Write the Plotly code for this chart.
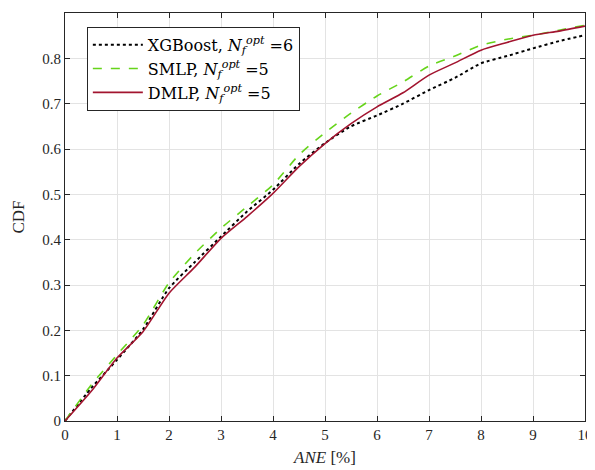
import plotly.graph_objects as go

ane = [0, 0.5, 1, 1.5, 2, 2.5, 3, 3.5, 4, 4.5, 5, 5.5, 6, 6.5, 7, 7.5, 8, 8.5, 9, 9.5, 10]
cdf_xgb = [0, 0.072, 0.135, 0.202, 0.293, 0.351, 0.407, 0.462, 0.510, 0.567, 0.613, 0.650, 0.674, 0.700, 0.730, 0.757, 0.789, 0.805, 0.822, 0.838, 0.851]
cdf_smlp = [0, 0.079, 0.146, 0.212, 0.305, 0.370, 0.425, 0.473, 0.521, 0.587, 0.636, 0.679, 0.717, 0.748, 0.783, 0.805, 0.829, 0.842, 0.851, 0.862, 0.873]
cdf_dmlp = [0, 0.065, 0.139, 0.197, 0.282, 0.340, 0.403, 0.451, 0.502, 0.561, 0.612, 0.656, 0.693, 0.724, 0.763, 0.790, 0.818, 0.835, 0.851, 0.860, 0.871]

names = ["XGBoost, <i>N</i><sub><i>f</i></sub><sup><i>opt</i></sup> =6",
         "SMLP, <i>N</i><sub><i>f</i></sub><sup><i>opt</i></sup> =5",
         "DMLP, <i>N</i><sub><i>f</i></sub><sup><i>opt</i></sup> =5"]
x_ticks = list(range(0, 11))
y_ticks = [0, 0.1, 0.2, 0.3, 0.4, 0.5, 0.6, 0.7, 0.8, 0.9]

FONT = "Liberation Serif"

fig = go.Figure()
fig.add_trace(go.Scatter(x=ane, y=cdf_xgb, mode="lines", name=names[0],
                         line=dict(color="black", width=2, dash="dot", shape="spline", smoothing=0.6)))
fig.add_trace(go.Scatter(x=ane, y=cdf_smlp, mode="lines", name=names[1],
                         line=dict(color="#66d41a", width=1.6, dash="dash", shape="spline", smoothing=0.6)))
fig.add_trace(go.Scatter(x=ane, y=cdf_dmlp, mode="lines", name=names[2],
                         line=dict(color="#a2142f", width=1.6, shape="spline", smoothing=0.6)))

axis_common = dict(showline=True, linecolor="#262626", linewidth=1, mirror="ticks",
                   ticks="inside", ticklen=5, tickcolor="#262626",
                   showgrid=True, gridcolor="#e3e3e3", gridwidth=1, zeroline=False,
                   automargin=False,
                   tickfont=dict(family=FONT, size=15, color="#262626"))

fig.update_layout(
    width=587, height=462,
    margin=dict(l=57, r=10, t=5, b=49),
    paper_bgcolor="white", plot_bgcolor="white",
    font=dict(family=FONT, size=15, color="#262626"),
    xaxis=dict(range=[0, 10], tickvals=x_ticks, **axis_common,
               title=dict(text="<i>ANE</i> [%]", font=dict(family=FONT, size=17), standoff=9)),
    yaxis=dict(range=[0, 0.9], tickvals=y_ticks, **axis_common,
               title=dict(text="CDF", font=dict(family=FONT, size=17), standoff=13)),
    legend=dict(x=0.042, y=0.966, xanchor="left", yanchor="top",
                bgcolor="white", bordercolor="#262626", borderwidth=1,
                font=dict(family="DejaVu Serif", size=16, color="black"),
                tracegroupgap=0, itemwidth=50),
    showlegend=True,
)

fig.write_html("out.html")
